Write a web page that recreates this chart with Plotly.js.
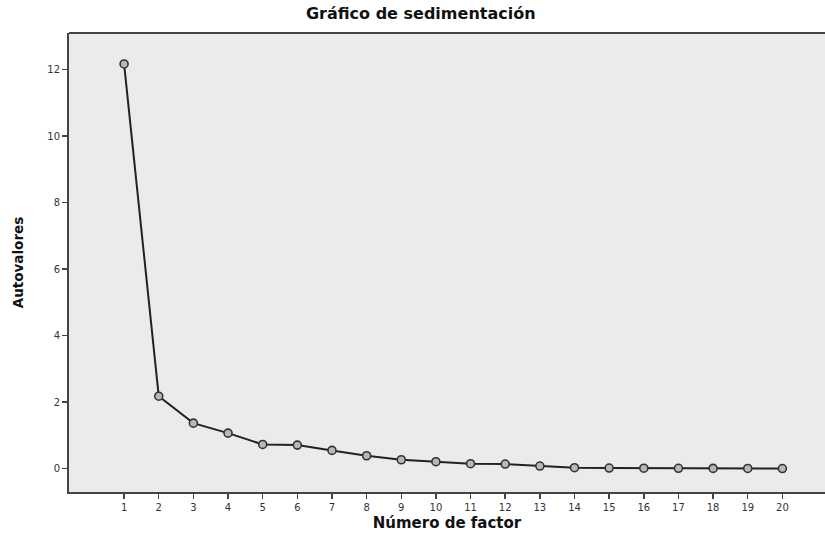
<!DOCTYPE html>
<html>
<head>
<meta charset="utf-8">
<script src="https://cdn.plot.ly/plotly-3.0.1.min.js"></script>
<style>html,body{margin:0;padding:0;background:#fff;}#chart{width:825px;height:544px;}</style>
</head>
<body>
<div id="chart"></div>
<script>
const factors = [1,2,3,4,5,6,7,8,9,10,11,12,13,14,15,16,17,18,19,20];
const eigenvalues = [12.17,2.18,1.37,1.07,0.73,0.71,0.55,0.39,0.27,0.21,0.15,0.14,0.08,0.03,0.02,0.015,0.012,0.01,0.008,0.005];
const yTicks = [0,2,4,6,8,10,12];

const trace = {
  x: factors, y: eigenvalues, type: 'scatter', mode: 'lines+markers',
  line: {color: '#222', width: 2},
  marker: {symbol: 'circle', size: 8, color: '#b8b8b8', line: {color: '#333', width: 1.6}},
  hoverinfo: 'skip'
};

const layout = {
  width: 825, height: 544,
  margin: {l: 69, r: 0, t: 33, b: 52},
  paper_bgcolor: '#ffffff', plot_bgcolor: '#ebebeb',
  showlegend: false,
  font: {family: 'DejaVu Sans, Arial, sans-serif', color: '#333'},
  title: {text: '<b>Gráfico de sedimentación</b>', x: 0.510, xanchor: 'center', y: 0.976, yanchor: 'middle',
          font: {size: 16, color: '#111', family: 'DejaVu Sans, sans-serif'}},
  xaxis: {
    range: [-0.59, 21.23], tickvals: factors, ticktext: factors.map(String),
    showgrid: false, zeroline: false, showline: true, linecolor: '#444', linewidth: 2,
    ticks: 'outside', ticklen: 5, tickwidth: 1.5, tickcolor: '#444',
    tickfont: {size: 10, color: '#333'},
    title: {text: '<b>Número de factor</b>', font: {size: 15, color: '#111'}, standoff: 5}
  },
  yaxis: {
    range: [-0.7, 13.1], tickvals: yTicks,
    showgrid: false, zeroline: false, showline: true, linecolor: '#444', linewidth: 2,
    ticks: 'outside', ticklen: 5, tickwidth: 1.5, tickcolor: '#444',
    tickfont: {size: 10, color: '#333'},
    title: {text: '<b>Autovalores</b>', font: {size: 13.5, color: '#111', family: 'DejaVu Sans, sans-serif'}, standoff: 21}
  },
  shapes: [{type: 'line', xref: 'paper', yref: 'paper', x0: 0, x1: 1, y0: 1, y1: 1,
            line: {color: '#444', width: 2}}]
};

Plotly.newPlot('chart', [trace], layout, {displayModeBar: false, staticPlot: true});
</script>
</body>
</html>
